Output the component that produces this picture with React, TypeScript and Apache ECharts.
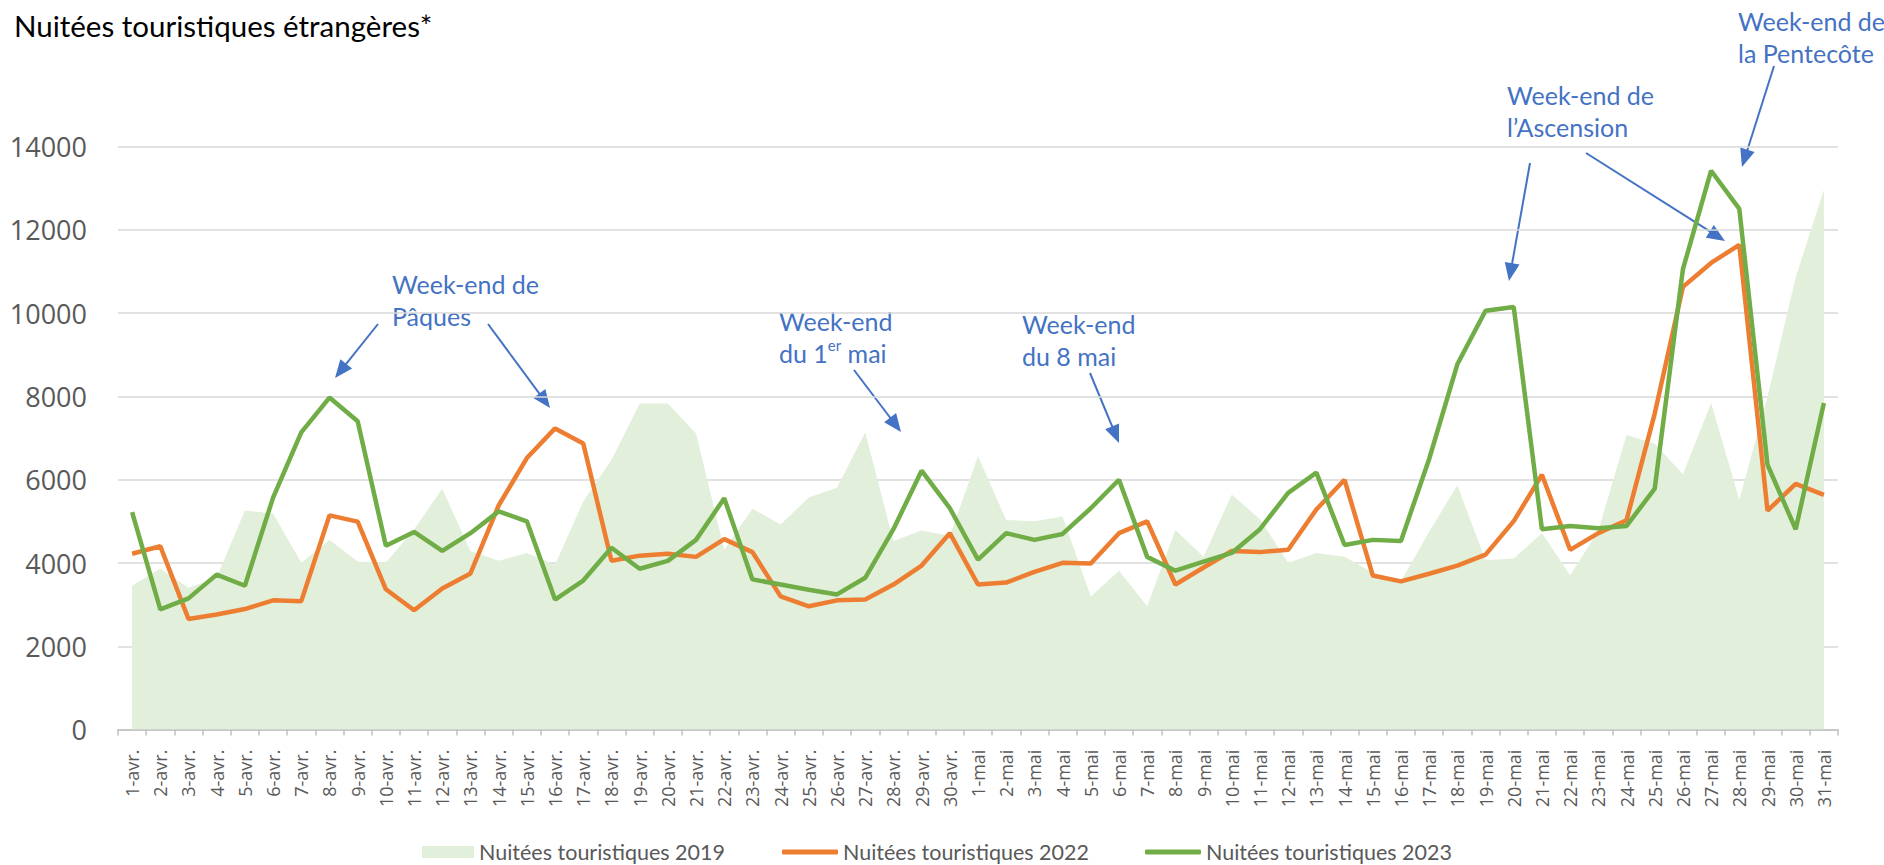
import React, { useEffect, useRef } from "react";
import * as echarts from "echarts";

const categories = [
  "1-avr.", "2-avr.", "3-avr.", "4-avr.", "5-avr.", "6-avr.", "7-avr.", "8-avr.", "9-avr.", "10-avr.",
  "11-avr.", "12-avr.", "13-avr.", "14-avr.", "15-avr.", "16-avr.", "17-avr.", "18-avr.", "19-avr.", "20-avr.",
  "21-avr.", "22-avr.", "23-avr.", "24-avr.", "25-avr.", "26-avr.", "27-avr.", "28-avr.", "29-avr.", "30-avr.",
  "1-mai", "2-mai", "3-mai", "4-mai", "5-mai", "6-mai", "7-mai", "8-mai", "9-mai", "10-mai",
  "11-mai", "12-mai", "13-mai", "14-mai", "15-mai", "16-mai", "17-mai", "18-mai", "19-mai", "20-mai",
  "21-mai", "22-mai", "23-mai", "24-mai", "25-mai", "26-mai", "27-mai", "28-mai", "29-mai", "30-mai",
  "31-mai",
];

const nuitees2019 = [
  3455, 3863, 3408, 3650, 5259, 5192, 4006, 4556, 4034, 4006,
  4812, 5781, 4290, 4053, 4243, 3958, 5477, 6474, 7831, 7831,
  7110, 4319, 5306, 4926, 5572, 5809, 7138, 4528, 4784, 4651,
  6569, 5031, 5002, 5116, 3199, 3816, 2962, 4794, 4148, 5648,
  5050, 4006, 4243, 4148, 3768, 3560, 4750, 5867, 4064, 4110,
  4719, 3708, 4776, 7072, 6866, 6131, 7842, 5522, 7991, 10861,
  12962,
];

const nuitees2022 = [
  4224, 4404, 2658, 2762, 2895, 3104, 3085, 5145, 4993, 3370,
  2867, 3389, 3750, 5382, 6521, 7233, 6872, 4053, 4177, 4224,
  4148, 4575, 4262, 3199, 2962, 3104, 3123, 3484, 3940, 4717,
  3484, 3531, 3787, 4006, 3987, 4717, 5002, 3484, 3892, 4290,
  4262, 4319, 5287, 5999, 3702, 3560, 3743, 3938, 4202, 5006,
  6119, 4317, 4719, 5029, 7589, 10631, 11206, 11642, 5258, 5901,
  5637,
];

const nuitees2023 = [
  5220, 2886, 3151, 3721, 3455, 5572, 7138, 7973, 7404, 4414,
  4746, 4290, 4717, 5240, 5002, 3123, 3579, 4366, 3863, 4053,
  4556, 5553, 3607, 3484, 3360, 3246, 3645, 4812, 6217, 5316,
  4082, 4717, 4556, 4698, 5316, 5999, 4148, 3816, 4034, 4243,
  4812, 5686, 6170, 4433, 4556, 4528, 6498, 8772, 10057, 10149,
  4811, 4891, 4834, 4891, 5786, 11056, 13421, 12503, 6360, 4811,
  7842,
];

const seriesNames = [
  "Nuitées touristiques 2019",
  "Nuitées touristiques 2022",
  "Nuitées touristiques 2023",
];
const seriesColors = ["#E2EFDA", "#ED7D31", "#70AD47"];

const TITLE = "Nuitées touristiques étrangères*";
const ANNOT = "#4472C4";
const CAL = "Lato, 'Open Sans', sans-serif";

function arrow(x1: number, y1: number, x2: number, y2: number) {
  const dx = x2 - x1;
  const dy = y2 - y1;
  const len = Math.hypot(dx, dy);
  const ux = dx / len;
  const uy = dy / len;
  const headLen = 18;
  const headW = 7.5;
  const bx = x2 - ux * headLen;
  const by = y2 - uy * headLen;
  const px = -uy;
  const py = ux;
  return [
    {
      type: "line",
      shape: { x1, y1, x2: bx + ux * 2, y2: by + uy * 2 },
      style: { stroke: ANNOT, lineWidth: 2 },
      silent: true,
    },
    {
      type: "polygon",
      shape: {
        points: [
          [x2, y2],
          [bx + px * headW, by + py * headW],
          [bx - px * headW, by - py * headW],
        ],
      },
      style: { fill: ANNOT },
      silent: true,
    },
  ];
}

function note(text: string, x: number, y: number) {
  return {
    type: "text",
    x,
    y,
    silent: true,
    style: {
      text,
      fill: ANNOT,
      fontSize: 25,
      fontFamily: CAL,
      lineHeight: 32,
      align: "left",
      verticalAlign: "top",
    },
  };
}

function legendFor(i: number, left: number, icon: string, w: number, h: number) {
  return {
    left,
    top: 836,
    itemWidth: w,
    itemHeight: h,
    itemGap: 0,
    icon,
    textStyle: { fontFamily: CAL, fontSize: 21.5, color: "#595959" },
    data: [{ name: seriesNames[i], icon, itemStyle: { color: seriesColors[i] } }],
  };
}

export default function App() {
  const ref = useRef<HTMLDivElement>(null);

  useEffect(() => {
    document.body.style.margin = "0";
    if (!ref.current) return;
    const chart = echarts.init(ref.current, undefined, { renderer: "svg" });

    const graphics: any[] = [
      note("Week-end de\nPâques", 392, 268),
      ...arrow(378, 324, 335, 378),
      ...arrow(488, 324, 550, 408),
      {
        type: "text",
        x: 779,
        y: 305,
        silent: true,
        style: {
          text: "{a|Week-end}\n{a|du 1}{s|er}{a| mai}",
          fill: ANNOT,
          fontSize: 25,
          fontFamily: CAL,
          lineHeight: 32,
          align: "left",
          verticalAlign: "top",
          rich: {
            a: { fontSize: 25, fontFamily: CAL, fill: ANNOT, lineHeight: 32 },
            s: { fontSize: 15, fontFamily: CAL, fill: ANNOT, lineHeight: 18, verticalAlign: "top" },
          },
        },
      },
      ...arrow(854, 370, 901, 432),
      note("Week-end\ndu 8 mai", 1022, 308),
      ...arrow(1090, 373, 1119, 443),
      note("Week-end de\nl\u2019Ascension", 1507, 79),
      ...arrow(1530, 163, 1509, 281),
      ...arrow(1586, 153, 1725, 241),
      note("Week-end de\nla Pentecôte", 1738, 5),
      ...arrow(1774, 66, 1742, 167),
    ];

    chart.setOption({
      animation: false,
      backgroundColor: "#ffffff",
      title: {
        text: TITLE,
        left: 9,
        top: 5,
        textStyle: {
          fontFamily: CAL,
          fontWeight: "normal",
          fontSize: 29.5,
          color: "#000000",
        },
      },
      legend: [
        legendFor(0, 417, "rect", 52, 12),
        legendFor(1, 777, "roundRect", 56, 5),
        legendFor(2, 1140, "roundRect", 56, 5),
      ],
      grid: { left: 118, right: 46, top: 146.6, bottom: 135.4, containLabel: false },
      xAxis: {
        type: "category",
        data: categories,
        boundaryGap: true,
        axisLine: { lineStyle: { color: "#bfbfbf", width: 1.5 } },
        axisTick: { show: true, length: 6, lineStyle: { color: "#bfbfbf", width: 1.5 } },
        axisLabel: {
          rotate: 90,
          interval: 0,
          fontSize: 18,
          color: "#595959",
          fontFamily: "'Open Sans', sans-serif",
          margin: 20,
        },
      },
      yAxis: {
        type: "value",
        min: 0,
        max: 14000,
        interval: 2000,
        axisLine: { show: false },
        axisTick: { show: false },
        splitLine: { lineStyle: { color: "#d9d9d9", width: 1.5 } },
        axisLabel: {
          fontSize: 27,
          color: "#595959",
          fontFamily: "'Open Sans', sans-serif",
          margin: 31,
          formatter: (v: number) => String(v),
        },
      },
      series: [
        {
          name: seriesNames[0],
          type: "line",
          data: nuitees2019,
          symbol: "none",
          lineStyle: { width: 0, color: seriesColors[0] },
          itemStyle: { color: seriesColors[0] },
          areaStyle: { color: seriesColors[0], opacity: 1 },
          z: 1,
        },
        {
          name: seriesNames[1],
          type: "line",
          data: nuitees2022,
          symbol: "none",
          lineStyle: { width: 4.5, color: seriesColors[1] },
          itemStyle: { color: seriesColors[1] },
          z: 2,
        },
        {
          name: seriesNames[2],
          type: "line",
          data: nuitees2023,
          symbol: "none",
          lineStyle: { width: 4.5, color: seriesColors[2] },
          itemStyle: { color: seriesColors[2] },
          z: 3,
        },
      ],
      graphic: graphics,
    });

    return () => chart.dispose();
  }, []);

  return <div ref={ref} style={{ width: 1884, height: 865 }} />;
}
